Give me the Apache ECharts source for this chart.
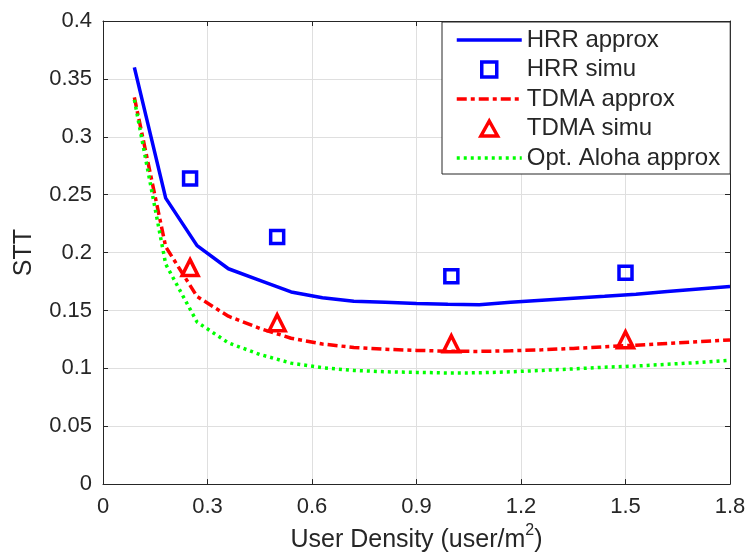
<!DOCTYPE html>
<html>
<head>
<meta charset="utf-8">
<script src="https://cdn.jsdelivr.net/npm/echarts@6/dist/echarts.min.js"></script>
<style>
html,body{margin:0;padding:0;background:#fff;}
#c{width:749px;height:558px;}
</style>
</head>
<body>
<div id="c"></div>
<script>
// ---- data ----
const xApprox = [0.09,0.18,0.27,0.36,0.45,0.54,0.63,0.72,0.81,0.9,0.99,1.08,1.17,1.26,1.35,1.44,1.53,1.62,1.71,1.8];
const hrrApprox = [0.360,0.247,0.206,0.186,0.176,0.166,0.161,0.158,0.157,0.156,0.1553,0.155,0.157,0.1588,0.1605,0.1622,0.164,0.1664,0.1685,0.1706];
const tdmaApprox = [0.334,0.205,0.162,0.145,0.1345,0.126,0.121,0.118,0.1165,0.1155,0.1148,0.1146,0.1152,0.116,0.1172,0.1186,0.120,0.1215,0.123,0.1245];
const alohaApprox = [0.332,0.190,0.140,0.122,0.112,0.1045,0.1005,0.0982,0.097,0.0965,0.096,0.0961,0.097,0.0982,0.0995,0.101,0.102,0.1035,0.105,0.107];
const xSimu = [0.25,0.5,1.0,1.5];
const hrrSimu = [0.264,0.2135,0.1796,0.1825];
const tdmaSimu = [0.187,0.1394,0.1213,0.1247];
const xTickLabels = ['0','0.3','0.6','0.9','1.2','1.5','1.8'];
const yTickLabels = ['0','0.05','0.1','0.15','0.2','0.25','0.3','0.35','0.4'];
const seriesNames = ['HRR approx','HRR simu','TDMA approx','TDMA simu','Opt. Aloha approx'];

const pair = (xs, ys) => xs.map((x, i) => [x, ys[i]]);
const FONT = "'Liberation Sans', Arial, Helvetica, sans-serif";
const TXT = '#262626';
const SQUARE = 'path://M0,0L10,0L10,10L0,10Z';
const TRIANGLE = 'path://M5,0L10,9L0,9Z';

const chart = echarts.init(document.getElementById('c'), null, {renderer: 'canvas'});
const baseX = {type:'value', min:0, max:1.8, interval:0.3};
const baseY = {type:'value', min:0, max:0.4, interval:0.05};
chart.setOption({
  animation: false,
  backgroundColor: '#fff',
  textStyle: {fontFamily: FONT},
  grid: {left: 103, right: 19, top: 21, bottom: 73},
  legend: {
    orient: 'vertical',
    left: 442, top: 22,
    padding: [6, 10, 4, 13],
    itemWidth: 65, itemHeight: 15, itemGap: 5.5,
    symbolKeepAspect: true,
    backgroundColor: '#fff',
    borderColor: TXT, borderWidth: 1,
    textStyle: {fontSize: 24, lineHeight: 24, color: TXT, fontFamily: FONT},
    data: [
      {name: seriesNames[0], itemStyle: {opacity: 0}, lineStyle: {width: 3.5}},
      {name: seriesNames[1], icon: SQUARE, itemStyle: {borderWidth: 3.5}},
      {name: seriesNames[2], itemStyle: {opacity: 0}, lineStyle: {width: 3.5}},
      {name: seriesNames[3], icon: TRIANGLE, itemStyle: {borderWidth: 3.5}},
      {name: seriesNames[4], itemStyle: {opacity: 0}, lineStyle: {width: 3.5}}
    ]
  },
  xAxis: [
    Object.assign({}, baseX, {
      position: 'bottom',
      name: '{a|User Density (user/m}{s|2}{a|)}',
      nameLocation: 'middle', nameGap: 36,
      nameTextStyle: {
        rich: {
          a: {fontSize: 25, color: TXT, fontFamily: FONT, lineHeight: 30, verticalAlign: 'bottom'},
          s: {fontSize: 16, color: TXT, fontFamily: FONT, lineHeight: 30, verticalAlign: 'top'}
        }
      },
      axisLine: {show: true, onZero: false, lineStyle: {color: TXT, width: 1}},
      axisTick: {show: true, inside: true, length: 5, lineStyle: {color: TXT}},
      axisLabel: {fontSize: 22, color: TXT, margin: 12, fontFamily: FONT,
        formatter: v => xTickLabels[Math.round(v / 0.3)]},
      splitLine: {show: true, lineStyle: {color: '#dfdfdf', width: 1}}
    }),
    Object.assign({}, baseX, {
      position: 'top',
      axisLine: {show: true, onZero: false, lineStyle: {color: TXT, width: 1}},
      axisTick: {show: true, inside: true, length: 5, lineStyle: {color: TXT}},
      axisLabel: {show: false},
      splitLine: {show: false}
    })
  ],
  yAxis: [
    Object.assign({}, baseY, {
      position: 'left',
      name: 'STT', nameLocation: 'middle', nameGap: 66,
      nameTextStyle: {fontSize: 25, color: TXT, fontFamily: FONT},
      axisLine: {show: true, onZero: false, lineStyle: {color: TXT, width: 1}},
      axisTick: {show: true, inside: true, length: 5, lineStyle: {color: TXT}},
      axisLabel: {fontSize: 22, color: TXT, margin: 11, fontFamily: FONT,
        formatter: v => yTickLabels[Math.round(v / 0.05)]},
      splitLine: {show: true, lineStyle: {color: '#dfdfdf', width: 1}}
    }),
    Object.assign({}, baseY, {
      position: 'right',
      axisLine: {show: true, onZero: false, lineStyle: {color: TXT, width: 1}},
      axisTick: {show: true, inside: true, length: 5, lineStyle: {color: TXT}},
      axisLabel: {show: false},
      splitLine: {show: false}
    })
  ],
  series: [
    {
      name: seriesNames[0], type: 'line', data: pair(xApprox, hrrApprox),
      symbol: 'none', color: '#0000ff',
      lineStyle: {color: '#0000ff', width: 3.5, type: 'solid'}
    },
    {
      name: seriesNames[1], type: 'scatter', data: pair(xSimu, hrrSimu),
      symbol: 'rect', symbolSize: 13, color: '#0000ff',
      itemStyle: {color: 'rgba(255,255,255,0)', borderColor: '#0000ff', borderWidth: 3.5, opacity: 1}
    },
    {
      name: seriesNames[2], type: 'line', data: pair(xApprox, tdmaApprox),
      symbol: 'none', color: '#ff0000',
      lineStyle: {color: '#ff0000', width: 3.5, type: [10, 4, 4, 4]}
    },
    {
      name: seriesNames[3], type: 'scatter', data: pair(xSimu, tdmaSimu),
      symbol: 'triangle', symbolSize: 16, color: '#ff0000',
      itemStyle: {color: 'rgba(255,255,255,0)', borderColor: '#ff0000', borderWidth: 3.5, opacity: 1}
    },
    {
      name: seriesNames[4], type: 'line', data: pair(xApprox, alohaApprox),
      symbol: 'none', color: '#00ff00',
      lineStyle: {color: '#00ff00', width: 3.5, type: [3, 4]}
    }
  ]
});
</script>
</body>
</html>
